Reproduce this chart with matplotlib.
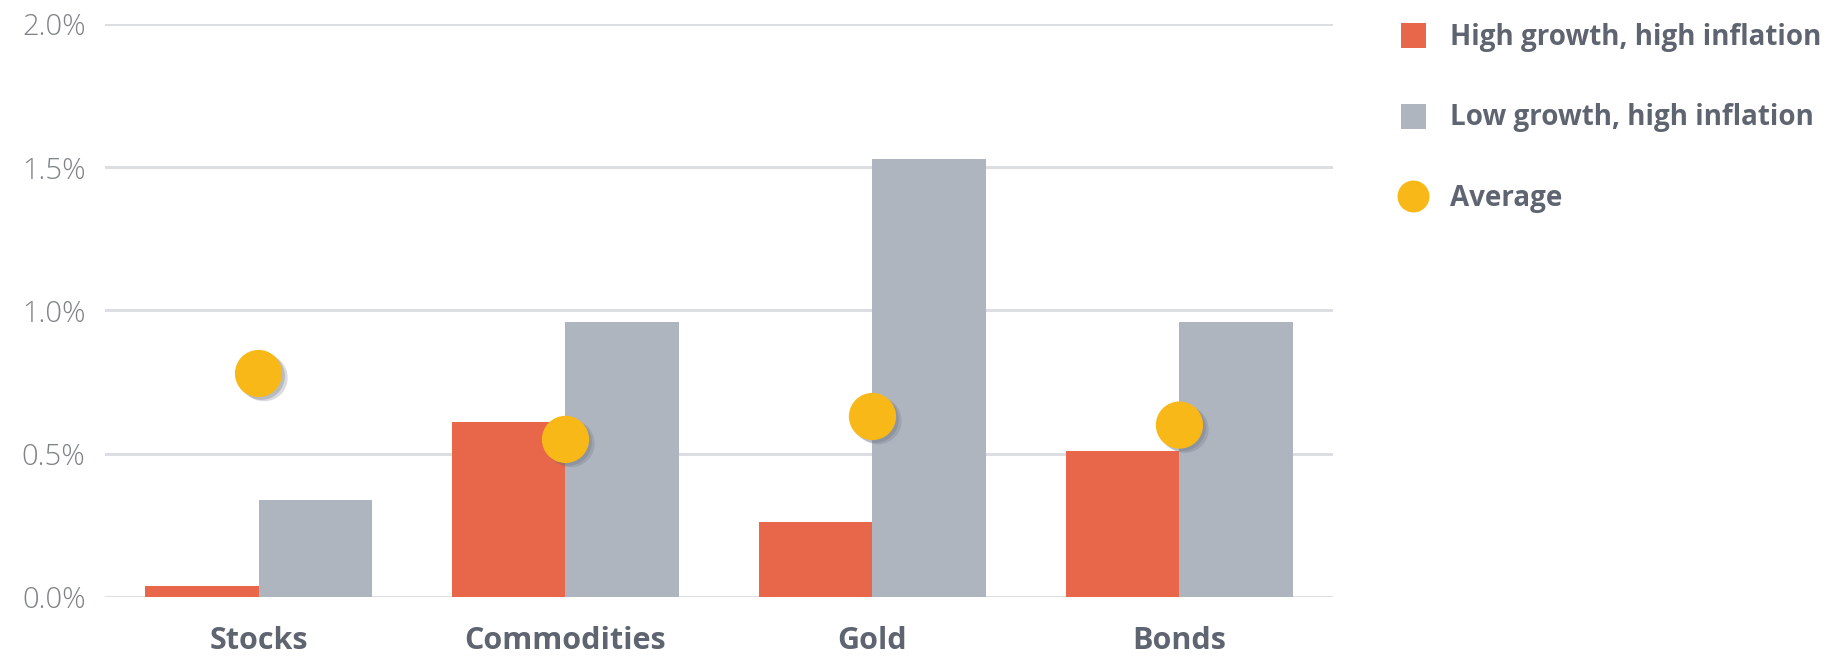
import numpy as np
import matplotlib
matplotlib.use("Agg")
import matplotlib.pyplot as plt
import matplotlib.patheffects as pe
from matplotlib.lines import Line2D
from matplotlib.ticker import FuncFormatter

# values in percent
categories = ["Stocks", "Commodities", "Gold", "Bonds"]
high_growth = [0.04, 0.61, 0.26, 0.51]
low_growth = [0.34, 0.96, 1.53, 0.96]
average = [0.78, 0.55, 0.63, 0.60]
series_labels = ["High growth, high inflation", "Low growth, high inflation", "Average"]

RED = "#E8664A"
GREY = "#AEB5BF"
GOLD = "#F8B817"
TEXT = "#5E6570"
TICK = "#7F8287"
GRID = "#DCDEE1"

plt.rcParams["font.family"] = ["Open Sans", "DejaVu Sans"]

fig = plt.figure(figsize=(18.49, 6.60), dpi=100)
ax = fig.add_axes([0.0568, 0.0955, 0.6641, 0.8681])

x = np.arange(len(categories))
w = 0.37

ax.bar(x - w / 2, high_growth, width=w, color=RED, zorder=2)
ax.bar(x + w / 2, low_growth, width=w, color=GREY, zorder=2)

shadow = [pe.SimplePatchShadow(offset=(4, -3), shadow_rgbFace="#6b7280", alpha=0.25),
          pe.SimplePatchShadow(offset=(2, -2), shadow_rgbFace="#6b7280", alpha=0.3),
          pe.Normal()]
ax.plot(x, average, linestyle="none", marker="o", markersize=34,
        markerfacecolor=GOLD, markeredgewidth=0, zorder=3, path_effects=shadow)

ax.set_xlim(-0.5, 3.5)
ax.set_ylim(0, 2.0)
ax.set_yticks([0, 0.5, 1.0, 1.5, 2.0])
ax.yaxis.set_major_formatter(FuncFormatter(lambda v, p: f"{v:.1f}%"))
ax.set_xticks(x)
ax.set_xticklabels(categories, fontsize=22, fontweight="bold", color=TEXT)
ax.tick_params(axis="x", length=0, pad=21)
ax.tick_params(axis="y", length=0, pad=14, labelsize=21, labelcolor=TICK)
for lab in ax.get_yticklabels():
    lab.set_fontweight("light")

ax.grid(axis="y", color=GRID, linewidth=2.2, zorder=0)
ax.set_axisbelow(True)
for s in ax.spines.values():
    s.set_visible(False)

handles = [
    Line2D([], [], linestyle="none", marker="s", markersize=18, markerfacecolor=RED, markeredgewidth=0),
    Line2D([], [], linestyle="none", marker="s", markersize=18, markerfacecolor=GREY, markeredgewidth=0),
    Line2D([], [], linestyle="none", marker="o", markersize=23, markerfacecolor=GOLD, markeredgewidth=0),
]
leg = fig.legend(handles, series_labels, loc="upper left", bbox_to_anchor=(0.7566, 0.965),
                 frameon=False, fontsize=20, handlelength=1.0, handletextpad=0.85,
                 labelspacing=1.85, borderpad=0, borderaxespad=0)
for t in leg.get_texts():
    t.set_color(TEXT)
    t.set_fontweight("bold")

fig.savefig("out.png", dpi=100)
